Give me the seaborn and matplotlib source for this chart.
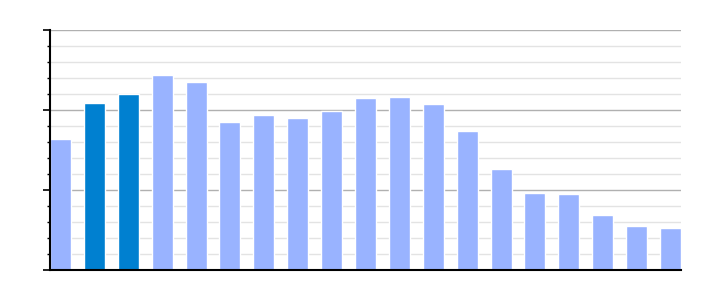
import matplotlib
matplotlib.use("Agg")
import matplotlib.pyplot as plt
from matplotlib.ticker import MultipleLocator, NullFormatter
import seaborn as sns
import pandas as pd

categories = [f"C{i}" for i in range(1, 20)]
values = [8.19, 10.44, 11.0, 12.19, 11.75, 9.25, 9.69, 9.5, 9.94, 10.75,
          10.81, 10.38, 8.69, 6.31, 4.81, 4.75, 3.44, 2.75, 2.63]
highlight = [False, True, True] + [False] * 16

LIGHT = "#99B3FF"
DARK = "#0080D0"

df = pd.DataFrame({"cat": categories, "val": values, "hl": highlight})
palette = {c: (DARK if h else LIGHT) for c, h in zip(categories, highlight)}

sns.set_style("white")
fig = plt.figure(figsize=(7.1, 3.0), dpi=100)
ax = fig.add_axes([50 / 710, 30 / 300, 631 / 710, 240 / 300])

sns.barplot(data=df, x="cat", y="val", hue="cat", palette=palette,
            width=0.62, legend=False, ax=ax, saturation=1, zorder=3)

ax.set_xlim(-0.31, 18.31)
ax.set_ylim(0, 15)
ax.yaxis.set_major_locator(MultipleLocator(5))
ax.yaxis.set_minor_locator(MultipleLocator(1))
ax.yaxis.set_major_formatter(NullFormatter())
ax.grid(axis="y", which="major", color="#b0b0b0", linewidth=1.0, zorder=0)
ax.grid(axis="y", which="minor", color="#e3e3e3", linewidth=1.0, zorder=0)
ax.set_axisbelow(True)
ax.tick_params(axis="y", which="major", length=5, width=1.2, color="black", left=True)
ax.tick_params(axis="y", which="minor", length=2.5, width=1.0, color="black", left=True)
ax.tick_params(axis="x", which="both", bottom=False, labelbottom=False)
ax.set_xlabel("")
ax.set_ylabel("")
for s in ["top", "right"]:
    ax.spines[s].set_visible(False)
for s in ["left", "bottom"]:
    ax.spines[s].set_color("black")
    ax.spines[s].set_linewidth(1.5)
    ax.spines[s].set_zorder(5)

fig.savefig("out.png", dpi=100)
